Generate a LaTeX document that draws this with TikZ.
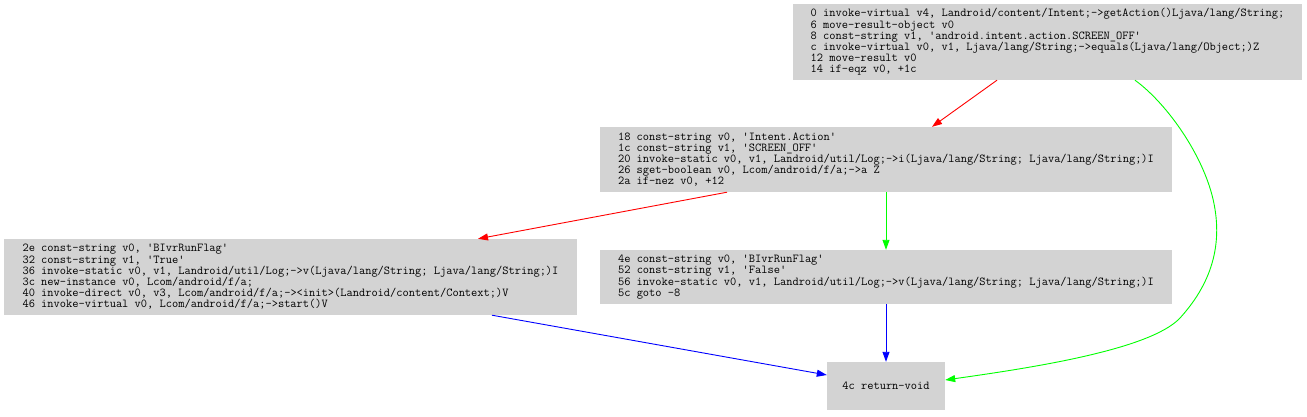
\documentclass[tikz,border=0pt]{standalone}
\usepackage{fontspec}
\usepackage{tikz}
\usetikzlibrary{arrows.meta,calc}
\definecolor{gvgray}{RGB}{211,211,211}

\begin{document}
\begin{tikzpicture}[
  x=1pt, y=-1pt,
  every node/.style={font=\fontsize{12.1}{11.2}\selectfont\ttfamily},
  blk/.style={fill=gvgray, draw=none, align=left, inner xsep=12pt, inner ysep=4pt},
  arr/.style={-{Triangle[length=10pt, width=7pt]}, line width=0.9pt},
  tbr/.style={arr, red},
  fbr/.style={arr, green},
  jmp/.style={arr, blue}
]
\useasboundingbox[fill=white] (0,0) rectangle (1307,416);

\node[blk, minimum width=509pt, minimum height=76pt] (blk0) at (1047.5,42)
  {0 invoke-virtual v4, Landroid/content/Intent;->getAction()Ljava/lang/String;\\
   6 move-result-object v0\\
   8 const-string v1, 'android.intent.action.SCREEN\_OFF'\\
   c invoke-virtual v0, v1, Ljava/lang/String;->equals(Ljava/lang/Object;)Z\\
   12 move-result v0\\
   14 if-eqz v0, +1c};
\node[blk, minimum width=572pt, minimum height=65pt] (blk18) at (886,159.5)
  {18 const-string v0, 'Intent.Action'\\
   1c const-string v1, 'SCREEN\_OFF'\\
   20 invoke-static v0, v1, Landroid/util/Log;->i(Ljava/lang/String; Ljava/lang/String;)I\\
   26 sget-boolean v0, Lcom/android/f/a;->a Z\\
   2a if-nez v0, +12};
\node[blk, minimum width=573pt, minimum height=76pt] (blk2e) at (290.5,277)
  {2e const-string v0, 'BIvrRunFlag'\\
   32 const-string v1, 'True'\\
   36 invoke-static v0, v1, Landroid/util/Log;->v(Ljava/lang/String; Ljava/lang/String;)I\\
   3c new-instance v0, Lcom/android/f/a;\\
   40 invoke-direct v0, v3, Lcom/android/f/a;-><init>(Landroid/content/Context;)V\\
   46 invoke-virtual v0, Lcom/android/f/a;->start()V};
\node[blk, minimum width=572pt, minimum height=54pt] (blk4e) at (886,277)
  {4e const-string v0, 'BIvrRunFlag'\\
   52 const-string v1, 'False'\\
   56 invoke-static v0, v1, Landroid/util/Log;->v(Ljava/lang/String; Ljava/lang/String;)I\\
   5c goto -8};
\node[blk, minimum width=118pt, minimum height=48pt] (blk4c) at (886,386)
  {4c return-void};

% branch edges
\draw[tbr] ([xshift=-50.5pt]blk0.south) -- ([xshift=46pt]blk18.north);
\draw[fbr] ([xshift=87.5pt]blk0.south)
  .. controls (1165,102) and (1200,150) .. (1212,195)
  .. controls (1225,245) and (1210,285) .. (1180,318)
  .. controls (1150,350) and (1030,368) .. ([yshift=6pt]blk4c.east);
\draw[tbr] ([xshift=-159pt]blk18.south) -- ([xshift=187.5pt]blk2e.north);
\draw[fbr] (blk18.south) -- (blk4e.north);
\draw[jmp] ([xshift=201.5pt]blk2e.south) -- ([yshift=11pt]blk4c.west);
\draw[jmp] (blk4e.south) -- (blk4c.north);
\end{tikzpicture}
\end{document}
